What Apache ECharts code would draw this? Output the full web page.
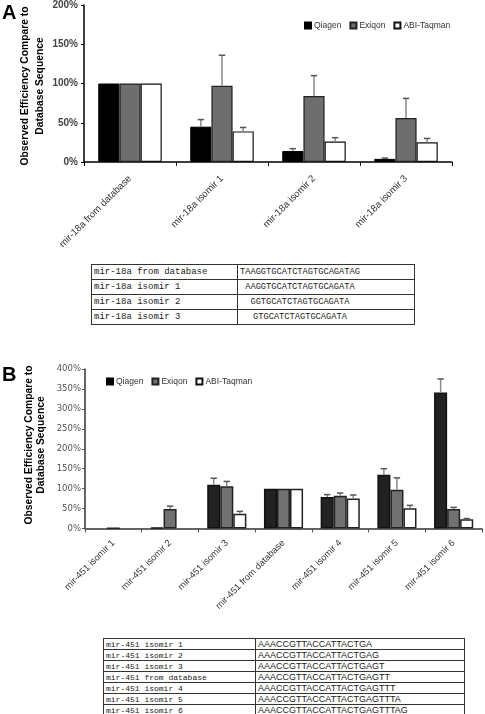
<!DOCTYPE html>
<html>
<head>
<meta charset="utf-8">
<script src="https://cdn.jsdelivr.net/npm/echarts@6/dist/echarts.min.js"></script>
<style>
  html, body { margin: 0; padding: 0; background: #fff; }
  #chart { position: absolute; left: 0; top: 0; width: 485px; height: 714px; }
  table.seq { position: absolute; border-collapse: collapse; color: #222; z-index: 5; background: #fff; -webkit-font-smoothing: antialiased; }
  table.seq td { border: 1px solid #333; padding: 0 0 0 2px; white-space: pre; overflow: hidden; }
  #tabA { left: 91px; top: 264px; width: 324px; border: 1.5px solid #333; }
  #tabA td { height: 14px; font: 9px "Liberation Mono", monospace; line-height: 14px; }
  #tabA td.c1 { width: 143px; }
  #tabA span.s { display: inline-block; width: 23ch; text-align: center; font-size: 8.7px; }
  #tabB { left: 103px; top: 638px; width: 362px; border: 1.5px solid #333; }
  #tabB td { height: 9.7px; line-height: 9.7px; }
  #tabB td.c1 { width: 149px; font: 8px "Liberation Mono", monospace; }
  #tabB td.c2 { font: 9px "Liberation Sans", Arial, sans-serif; color: #222; }
</style>
</head>
<body>
<div id="chart"></div>
<table class="seq" id="tabA"></table>
<table class="seq" id="tabB"></table>
<script>
// ---------- Panel A data ----------
const catsA = ['mir-18a from database', 'mir-18a isomir 1', 'mir-18a isomir 2', 'mir-18a isomir 3'];
const qiagenA = [100, 45, 14, 4];
const qiagenErrA = [0, 9, 3, 1];
const exiqonA = [100, 97, 84, 56];
const exiqonErrA = [0, 39, 26, 25];
const abiA = [100, 39, 26, 25];
const abiErrA = [0, 5, 5, 5];
const seqA = ['TAAGGTGCATCTAGTGCAGATAG', 'AAGGTGCATCTAGTGCAGATA', 'GGTGCATCTAGTGCAGATA', 'GTGCATCTAGTGCAGATA'];

// ---------- Panel B data ----------
const catsB = ['mir-451 isomir 1', 'mir-451 isomir 2', 'mir-451 isomir 3', 'mir-451 from database', 'mir-451 isomir 4', 'mir-451 isomir 5', 'mir-451 isomir 6'];
const qiagenB = [0, 2, 110, 100, 79, 135, 341];
const qiagenErrB = [0, 0, 16, 0, 6, 15, 34];
const exiqonB = [1, 49, 106, 100, 82, 97, 49];
const exiqonErrB = [0, 7, 12, 0, 7, 30, 4];
const abiB = [0, 0, 37, 100, 75, 51, 23];
const abiErrB = [0, 0, 6, 0, 9, 7, 2];
const seqB = ['AAACCGTTACCATTACTGA', 'AAACCGTTACCATTACTGAG', 'AAACCGTTACCATTACTGAGT', 'AAACCGTTACCATTACTGAGTT', 'AAACCGTTACCATTACTGAGTTT', 'AAACCGTTACCATTACTGAGTTTA', 'AAACCGTTACCATTACTGAGTTTAG'];

const seriesNames = ['Qiagen', 'Exiqon', 'ABI-Taqman'];
const ticksA = { min: 0, max: 200, interval: 50 };
const ticksB = { min: 0, max: 400, interval: 50 };
const yTitle = 'Observed Efficiency Compare to\nDatabase Sequence';

// ---------- tables ----------
function esc(s) { return s.replace(/&/g, '&amp;').replace(/</g, '&lt;'); }
document.getElementById('tabA').innerHTML = catsA.map((c, i) =>
  '<tr><td class="c1">' + esc(c) + '</td><td><span class="s">' + esc(seqA[i]) + '</span></td></tr>').join('');
document.getElementById('tabB').innerHTML = catsB.map((c, i) =>
  '<tr><td class="c1">' + esc(c) + '</td><td class="c2">' + esc(seqB[i]) + '</td></tr>').join('');

// ---------- chart ----------
const GAP = 0.31;
const chart = echarts.init(document.getElementById('chart'), null, { renderer: 'canvas' });

function errSeries(name, vals, errs, k, xi, yi, color) {
  return {
    type: 'custom', name: name + ' err', xAxisIndex: xi, yAxisIndex: yi, z: 5,
    silent: true, legendHoverLink: false,
    data: vals.map((v, i) => [i, v, errs[i]]),
    encode: { x: 0, y: 1 },
    renderItem: function (params, api) {
      const e = api.value(2);
      if (!e || e <= 0) return null;
      const v = api.value(1);
      const band = api.size([1, 0])[0];
      const bw = band * (1 - GAP) / 3;
      const p0 = api.coord([api.value(0), v]);
      const p1 = api.coord([api.value(0), v + e]);
      const x = p0[0] + (k - 1) * bw;
      const cap = 3.2;
      return {
        type: 'group',
        children: [
          { type: 'line', shape: { x1: x, y1: p0[1], x2: x, y2: p1[1] }, style: { stroke: color, lineWidth: 1.5 } },
          { type: 'line', shape: { x1: x - cap, y1: p1[1], x2: x + cap, y2: p1[1] }, style: { stroke: '#555', lineWidth: 1.5 } }
        ]
      };
    }
  };
}

const styleA = [
  { color: '#000', borderColor: '#000', borderWidth: 1 },
  { color: '#6e6e6e', borderColor: '#222', borderWidth: 1.2 },
  { color: '#fff', borderColor: '#111', borderWidth: 1.2 }
];
const styleB = [
  { color: '#222', borderColor: '#111', borderWidth: 1.5 },
  { color: '#717171', borderColor: '#222', borderWidth: 1.5 },
  { color: '#fff', borderColor: '#222', borderWidth: 1.5 }
];

const valsA = [qiagenA, exiqonA, abiA], errsA = [qiagenErrA, exiqonErrA, abiErrA];
const valsB = [qiagenB, exiqonB, abiB], errsB = [qiagenErrB, exiqonErrB, abiErrB];
const barData = arr => arr.map(v => (v === 0 ? '-' : v));

const series = [];
seriesNames.forEach((n, k) => {
  series.push({ type: 'bar', name: n, xAxisIndex: 0, yAxisIndex: 0, data: barData(valsA[k]), itemStyle: styleA[k],
    barGap: '0%', barCategoryGap: (GAP * 100) + '%' });
});
seriesNames.forEach((n, k) => {
  series.push({ type: 'bar', name: n, xAxisIndex: 1, yAxisIndex: 1, data: barData(valsB[k]), itemStyle: styleB[k],
    barGap: '0%', barCategoryGap: (GAP * 100) + '%' });
});
seriesNames.forEach((n, k) => series.push(errSeries(n, valsA[k], errsA[k], k, 0, 0, '#8a8a8a')));
seriesNames.forEach((n, k) => series.push(errSeries(n, valsB[k], errsB[k], k, 1, 1, '#8a8a8a')));

const titleFont = 'bold 10.3px "Liberation Sans", Arial, sans-serif';

chart.setOption({
  animation: false,
  backgroundColor: '#fff',
  textStyle: { fontFamily: 'Liberation Sans, Arial, sans-serif' },
  graphic: [
    { type: 'text', left: 2, top: 3, style: { text: 'A', font: 'bold 20px "Liberation Sans", Arial, sans-serif', fill: '#000' } },
    { type: 'text', left: 2, top: 365, style: { text: 'B', font: 'bold 20px "Liberation Sans", Arial, sans-serif', fill: '#000' } },
    { type: 'text', x: 33, y: 86, rotation: Math.PI / 2,
      style: { text: yTitle, font: titleFont, lineHeight: 15, fill: '#000', align: 'center', verticalAlign: 'middle' } },
    { type: 'text', x: 35, y: 445, rotation: Math.PI / 2,
      style: { text: yTitle, font: titleFont, lineHeight: 12.5, fill: '#000', align: 'center', verticalAlign: 'middle' } }
  ],
  legend: [
    { data: seriesNames, left: 299, top: 16, icon: 'rect', itemWidth: 6, itemHeight: 6, itemGap: 8,
      textStyle: { fontSize: 8.5, color: '#333', padding: [0, 0, 0, -2] } },
    { data: seriesNames, left: 101, top: 372, icon: 'rect', itemWidth: 6, itemHeight: 6, itemGap: 8,
      textStyle: { fontSize: 8.5, color: '#333', padding: [0, 0, 0, -2] } }
  ],
  grid: [
    { left: 84, right: 33, top: 5, height: 157 },
    { left: 85, right: 3, top: 369, height: 159.5 }
  ],
  xAxis: [
    { type: 'category', gridIndex: 0, data: catsA,
      axisLine: { lineStyle: { color: '#000', width: 1.5 } },
      axisTick: { show: true, length: 4, lineStyle: { color: '#000' } },
      axisLabel: { rotate: 45, interval: 0, margin: 15, fontSize: 9.7, color: '#333' } },
    { type: 'category', gridIndex: 1, data: catsB,
      axisLine: { lineStyle: { color: '#333', width: 1.5 } },
      axisTick: { show: true, length: 4, lineStyle: { color: '#555' } },
      axisLabel: { rotate: 45, interval: 0, margin: 13, fontSize: 9.3, color: '#333' } }
  ],
  yAxis: [
    { type: 'value', gridIndex: 0, min: ticksA.min, max: ticksA.max, interval: ticksA.interval,
      axisLine: { show: true, lineStyle: { color: '#000', width: 1.5 } },
      axisTick: { show: true, length: 3, lineStyle: { color: '#000' } },
      splitLine: { show: false },
      axisLabel: { formatter: '{value}%', fontSize: 10, fontWeight: 'bold', color: '#444', margin: 6 } },
    { type: 'value', gridIndex: 1, min: ticksB.min, max: ticksB.max, interval: ticksB.interval,
      axisLine: { show: true, lineStyle: { color: '#333', width: 1.5 } },
      axisTick: { show: true, length: 3, lineStyle: { color: '#555' } },
      splitLine: { show: false },
      axisLabel: { formatter: '{value}%', fontSize: 8.5, fontFamily: 'DejaVu Sans, sans-serif', color: '#555', margin: 4 } }
  ],
  series: series
});
</script>
</body>
</html>
